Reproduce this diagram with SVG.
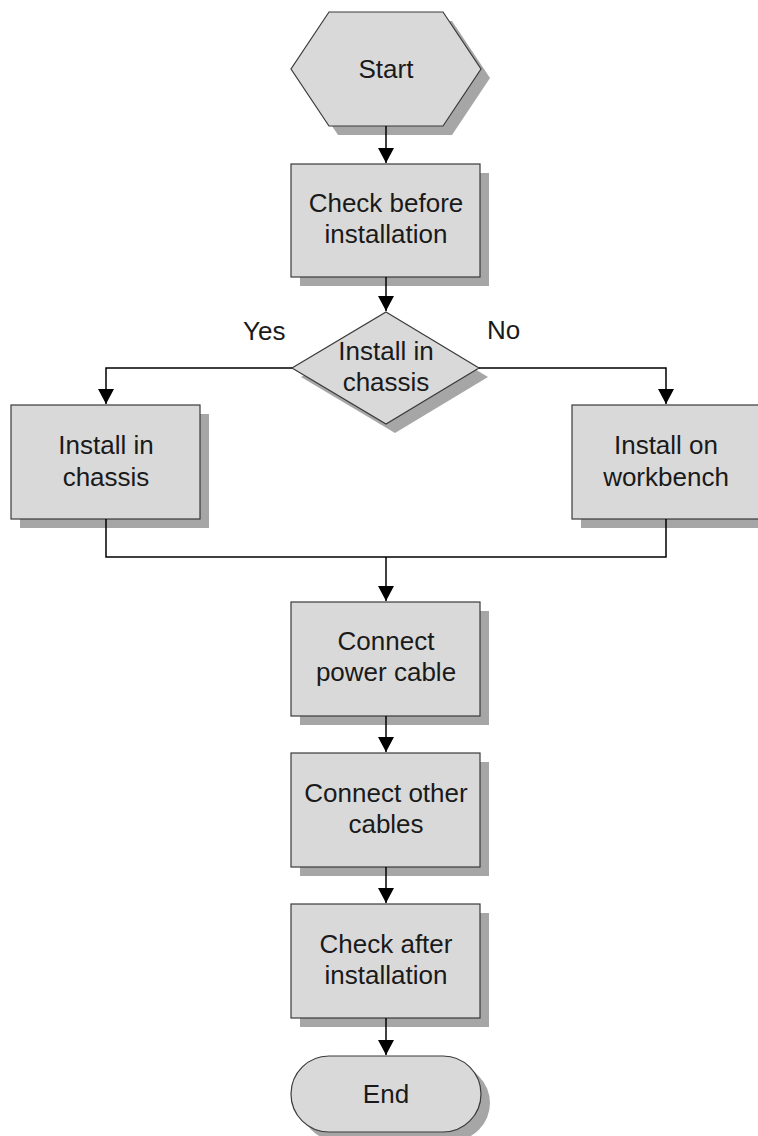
<svg xmlns="http://www.w3.org/2000/svg" width="758" height="1136" viewBox="0 0 758 1136">
<defs>
<style>
.shape{fill:#d9d9d9;stroke:#3a3a3a;stroke-width:1.2}
.shadow{fill:#a6a6a6;stroke:none}
.t{font-family:"Liberation Sans",Arial,sans-serif;font-size:26px;fill:#1a1a1a;text-anchor:middle}
.lbl{font-family:"Liberation Sans",Arial,sans-serif;font-size:26px;fill:#1a1a1a}
.c{fill:none;stroke:#000;stroke-width:1.5}
</style>
<marker id="arr" markerUnits="userSpaceOnUse" markerWidth="18" markerHeight="18" refX="15" refY="8" orient="auto">
<path d="M0,0 L15,8 L0,16 Z" fill="#000"/>
</marker>
</defs>
<rect width="758" height="1136" fill="#fff"/>
<g id="start">
<polygon class="shadow" points="338,21 452,21 490,78 452,135 338,135 300,78"/>
<polygon class="shape" points="329,12 443,12 481,69 443,126 329,126 291,69"/>
<text class="t" x="386" y="78">Start</text>
</g>
<g id="check-before">
<rect class="shadow" x="300" y="173" width="189" height="113"/>
<rect class="shape" x="291" y="164" width="189" height="113"/>
<text class="t" x="386" y="212">Check before</text>
<text class="t" x="386" y="243">installation</text>
</g>
<g id="decision">
<polygon class="shadow" points="395,321 488,377 395,433 301,377"/>
<polygon class="shape" points="386,312 479,368 386,424 292,368"/>
<text class="t" x="386" y="360">Install in</text>
<text class="t" x="386" y="391">chassis</text>
</g>
<g id="install-chassis">
<rect class="shadow" x="20" y="414" width="189" height="114"/>
<rect class="shape" x="11" y="405" width="189" height="114"/>
<text class="t" x="106" y="454">Install in</text>
<text class="t" x="106" y="486">chassis</text>
</g>
<g id="install-workbench">
<rect class="shadow" x="581" y="414" width="189" height="114"/>
<rect class="shape" x="572" y="405" width="189" height="114"/>
<text class="t" x="666" y="454">Install on</text>
<text class="t" x="666" y="486">workbench</text>
</g>
<g id="connect-power">
<rect class="shadow" x="300" y="611" width="189" height="114"/>
<rect class="shape" x="291" y="602" width="189" height="114"/>
<text class="t" x="386" y="650">Connect</text>
<text class="t" x="386" y="681">power cable</text>
</g>
<g id="connect-other">
<rect class="shadow" x="300" y="762" width="189" height="114"/>
<rect class="shape" x="291" y="753" width="189" height="114"/>
<text class="t" x="386" y="802">Connect other</text>
<text class="t" x="386" y="833">cables</text>
</g>
<g id="check-after">
<rect class="shadow" x="300" y="913" width="189" height="114"/>
<rect class="shape" x="291" y="904" width="189" height="114"/>
<text class="t" x="386" y="953">Check after</text>
<text class="t" x="386" y="984">installation</text>
</g>
<g id="end">
<rect class="shadow" x="300" y="1065" width="190" height="76" rx="38" ry="38"/>
<rect class="shape" x="291" y="1056" width="190" height="76" rx="38" ry="38"/>
<text class="t" x="386" y="1103">End</text>
</g>
<g id="connectors">
<path class="c" d="M386,126 V163" marker-end="url(#arr)"/>
<path class="c" d="M386,277 V311" marker-end="url(#arr)"/>
<path class="c" d="M292,368 H106 V404" marker-end="url(#arr)"/>
<path class="c" d="M479,368 H666 V404" marker-end="url(#arr)"/>
<path class="c" d="M106,519 V557 H666 V519"/>
<path class="c" d="M386,557 V601" marker-end="url(#arr)"/>
<path class="c" d="M386,716 V752" marker-end="url(#arr)"/>
<path class="c" d="M386,867 V903" marker-end="url(#arr)"/>
<path class="c" d="M386,1018 V1055" marker-end="url(#arr)"/>
<text class="lbl" x="243" y="340">Yes</text>
<text class="lbl" x="487" y="339">No</text>
</g>
</svg>
